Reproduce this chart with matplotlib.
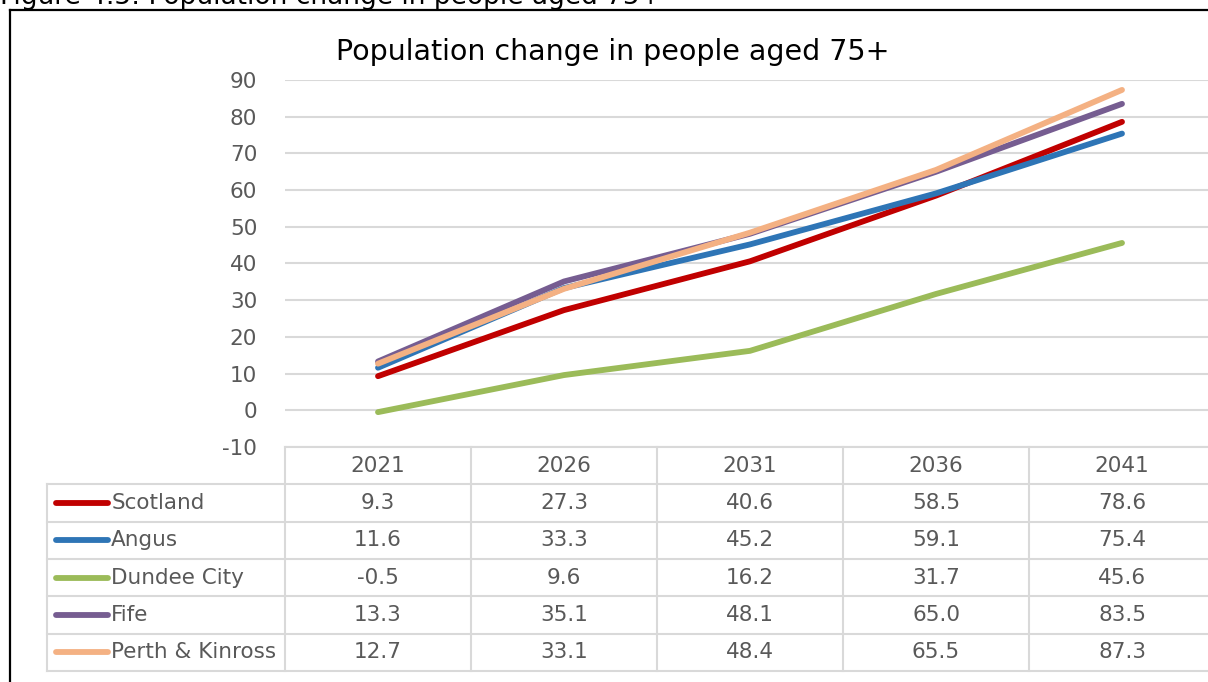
import matplotlib.pyplot as plt
from matplotlib.lines import Line2D

# projected % change in people aged 75+, relative to 2018
years = ['2021', '2026', '2031', '2036', '2041']
areas = ['Scotland', 'Angus', 'Dundee City', 'Fife', 'Perth & Kinross']
scotland = [9.3, 27.3, 40.6, 58.5, 78.6]
angus = [11.6, 33.3, 45.2, 59.1, 75.4]
dundee = [-0.5, 9.6, 16.2, 31.7, 45.6]
fife = [13.3, 35.1, 48.1, 65.0, 83.5]
perth = [12.7, 33.1, 48.4, 65.5, 87.3]
colours = ['#C00000', '#2E75B6', '#9BBB59', '#765D91', '#F4B183']

series = [scotland, angus, dundee, fife, perth]

W, H = 1208, 682
GREY = '#595959'
LINE = '#D9D9D9'
FS = 15.5

plt.rcParams['font.family'] = 'DejaVu Sans'
plt.rcParams['axes.unicode_minus'] = False

fig = plt.figure(figsize=(W / 100, H / 100), dpi=100)

def box(l, t, r, b):
    return [l / W, 1 - b / H, (r - l) / W, (b - t) / H]

# outer frame and caption
fig.add_artist(Line2D([10 / W, 10 / W], [0, 1 - 10 / H], color='black', lw=1.6))
fig.add_artist(Line2D([10 / W, 1], [1 - 10 / H, 1 - 10 / H], color='black', lw=1.6))
fig.text(0, 1 - 4 / H, 'Figure 4.5: Population change in people aged 75+',
         fontsize=19, va='baseline', ha='left', color='black')
fig.text(613 / W, 1 - 52 / H, 'Population change in people aged 75+',
         fontsize=20.5, ha='center', va='center', color='black')

# line chart
ax = fig.add_axes(box(285, 80, 1215, 447))
x = list(range(len(years)))
for vals, c in zip(series, colours):
    ax.plot(x, vals, color=c, lw=4.2, solid_capstyle='round', solid_joinstyle='round')
ax.set_xlim(-0.5, len(years) - 0.5)
ax.set_ylim(-10, 90)
ax.set_yticks(range(-10, 91, 10))
ax.set_xticks([])
ax.tick_params(axis='y', length=0, pad=20, labelsize=FS, labelcolor=GREY)
ax.grid(axis='y', color=LINE, lw=1.5)
ax.set_axisbelow(True)
for s in ax.spines.values():
    s.set_visible(False)

# data table underneath, sharing the category columns
key_left = -0.5 - 238 / 186
tb = fig.add_axes(box(47, 447, 1215, 671))
tb.set_xlim(key_left, len(years) - 0.5)
tb.set_ylim(len(areas) + 1, 0)
tb.axis('off')

n = len(years)
for i in range(n + 1):
    tb.plot([i - 0.5, i - 0.5], [0, len(areas) + 1], color=LINE, lw=1.5, clip_on=False)
tb.plot([key_left, key_left], [1, len(areas) + 1], color=LINE, lw=1.5, clip_on=False)
tb.plot([-0.5, n - 0.5], [0, 0], color=LINE, lw=1.5, clip_on=False)
for r in range(1, len(areas) + 2):
    tb.plot([key_left, n - 0.5], [r, r], color=LINE, lw=1.5, clip_on=False)

for i, yr in enumerate(years):
    tb.text(i, 0.5, yr, ha='center', va='center', fontsize=FS, color=GREY)

for r, (name, vals, c) in enumerate(zip(areas, series, colours), start=1):
    tb.plot([key_left + 0.05, key_left + 0.33], [r + 0.5, r + 0.5], color=c, lw=4.2,
            solid_capstyle='round')
    tb.text(key_left + 0.345, r + 0.5, name, ha='left', va='center', fontsize=FS, color=GREY)
    for i, v in enumerate(vals):
        tb.text(i, r + 0.5, f'{v:.1f}', ha='center', va='center', fontsize=FS, color=GREY)

fig.savefig('out.png', dpi=100)
